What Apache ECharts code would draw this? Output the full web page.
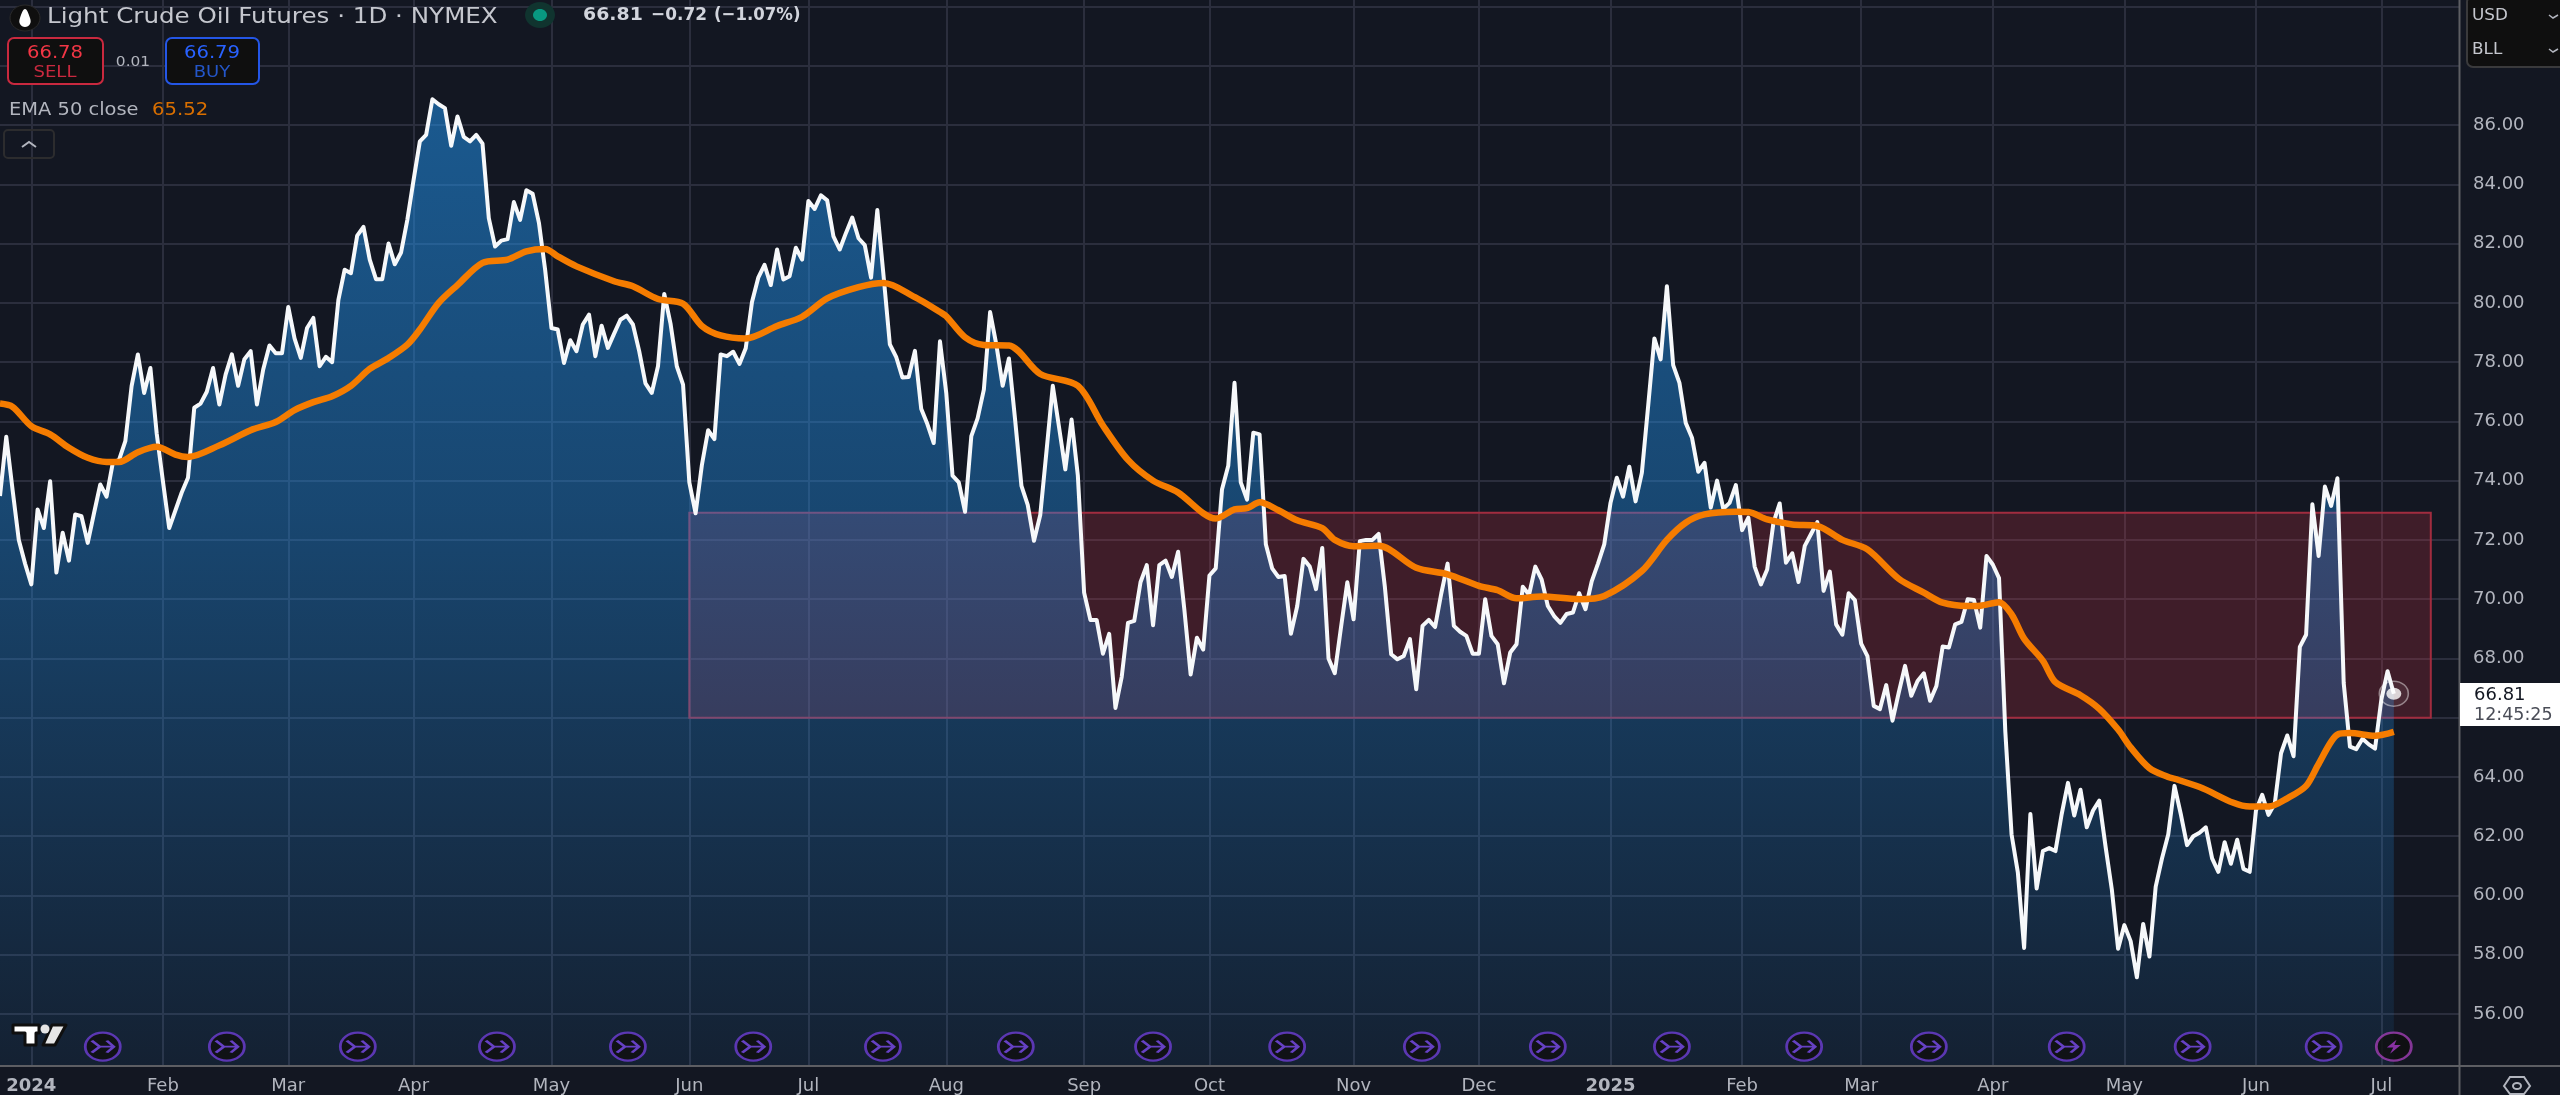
<!DOCTYPE html>
<html>
<head>
<meta charset="utf-8">
<title>Light Crude Oil Futures</title>
<style>
  html, body { margin: 0; padding: 0; background: #131722; }
  #chart { width: 2560px; height: 1095px; }
</style>
<script src="https://cdn.jsdelivr.net/npm/echarts@6/dist/echarts.min.js"></script>
</head>
<body>
<div id="chart"></div>
<script>
// x axis is counted in trading bars, bar 5 = first session of 2024
var monthBars = [5, 26, 46, 66, 88, 110, 129, 151, 173, 193, 216, 236, 257, 278, 297, 318, 339, 360, 380];
var monthLabels = ['2024', 'Feb', 'Mar', 'Apr', 'May', 'Jun', 'Jul', 'Aug', 'Sep', 'Oct', 'Nov', 'Dec', '2025', 'Feb', 'Mar', 'Apr', 'May', 'Jun', 'Jul'];
var priceTicks = [56, 58, 60, 62, 64, 66, 68, 70, 72, 74, 76, 78, 80, 82, 84, 86, 88, 90];
var priceLabels = [56, 58, 60, 62, 64, 68, 70, 72, 74, 76, 78, 80, 82, 84, 86];

// daily close, one value per bar from bar 0
var closeValues = [
  73.48, 75.48, 73.7, 72.0, 71.2, 70.5, 73.03, 72.4, 73.98, 70.9,
  72.24, 71.3, 72.86, 72.8, 71.9, 72.9, 73.87, 73.46, 74.6, 74.7,
  75.33, 77.19, 78.26, 76.96, 77.8, 75.6, 73.98, 72.4, 73.0, 73.6,
  74.1, 76.46, 76.6, 77.0, 77.8, 76.57, 77.58, 78.26, 77.2, 78.1,
  78.37, 76.57, 77.75, 78.56, 78.3, 78.3, 79.86, 78.8, 78.14, 79.15,
  79.49, 77.86, 78.18, 78.0, 80.1, 81.12, 81.0, 82.27, 82.56, 81.46,
  80.8, 80.8, 82.0, 81.3, 81.7, 82.8, 84.15, 85.45, 85.67, 86.87,
  86.7, 86.57, 85.3, 86.29, 85.6, 85.45, 85.67, 85.37, 82.86, 81.9,
  82.1, 82.15, 83.4, 82.8, 83.8, 83.68, 82.7, 81.1, 79.15, 79.1,
  77.97, 78.74, 78.37, 79.27, 79.6, 78.2, 79.23, 78.48, 78.96, 79.43,
  79.57, 79.27, 78.37, 77.28, 76.96, 77.86, 80.3, 79.3, 77.86, 77.24,
  73.94, 72.9, 74.52, 75.7, 75.4, 78.26, 78.2, 78.35, 77.94, 78.47,
  80.03, 80.85, 81.28, 80.6, 81.8, 80.79, 80.9, 81.86, 81.46, 83.44,
  83.17, 83.63, 83.46, 82.24, 81.8, 82.36, 82.88, 82.18, 81.95, 80.85,
  83.13, 80.9, 78.6, 78.18, 77.48, 77.5, 78.38, 76.43, 75.9, 75.27,
  78.7, 76.96, 74.17, 73.94, 72.95, 75.5, 76.1, 77.07, 79.69, 78.58,
  77.2, 78.12, 76.03, 73.82, 73.18, 71.97, 72.84, 75.0, 77.2, 75.8,
  74.38, 76.06, 74.17, 70.22, 69.3, 69.3, 68.16, 68.83, 66.33, 67.38,
  69.2, 69.27, 70.57, 71.15, 69.12, 71.15, 71.3, 70.75, 71.6, 69.64,
  67.46, 68.7, 68.3, 70.8, 71.04, 73.7, 74.5, 77.3, 73.94, 73.36,
  75.62, 75.56, 71.85, 71.04, 70.75, 70.78, 68.83, 69.76, 71.36, 71.1,
  70.34, 71.73, 68.0, 67.5, 69.06, 70.57, 69.32, 71.96, 72.0, 72.0,
  72.2, 70.4, 68.14, 67.97, 68.08, 68.65, 66.96, 69.1, 69.3, 69.06,
  70.2, 71.2, 69.1, 68.9, 68.76, 68.16, 68.16, 70.0, 68.76, 68.48,
  67.16, 68.2, 68.48, 70.42, 70.15, 71.1, 70.67, 69.77, 69.43, 69.2,
  69.5, 69.55, 70.2, 69.66, 70.6, 71.2, 71.85, 73.25, 74.1, 73.46,
  74.47, 73.3, 74.26, 76.5, 78.8, 78.09, 80.56, 77.9, 77.3, 75.95,
  75.45, 74.3, 74.6, 73.09, 74.0, 73.05, 73.25, 73.85, 72.33, 72.75,
  71.1, 70.5, 71.0, 72.58, 73.23, 71.23, 71.55, 70.58, 71.8, 72.2,
  72.6, 70.28, 70.93, 69.15, 68.8, 70.2, 69.97, 68.5, 68.08, 66.4,
  66.29, 67.1, 65.9, 66.85, 67.75, 66.74, 67.24, 67.5, 66.57, 67.07,
  68.4, 68.37, 69.15, 69.23, 70.0, 69.97, 69.04, 71.46, 71.17, 70.71,
  65.54, 62.06, 60.78, 58.23, 62.75, 60.24, 61.5, 61.6, 61.5, 62.75,
  63.8, 62.7, 63.57, 62.3, 62.87, 63.2, 61.65, 60.2, 58.2, 59.0,
  58.46, 57.24, 59.04, 57.94, 60.3, 61.25, 62.06, 63.7, 62.75, 61.7,
  62.0, 62.12, 62.3, 61.25, 60.8, 61.8, 61.07, 61.88, 60.9, 60.8,
  62.87, 63.4, 62.72, 63.1, 64.8, 65.4, 64.7, 68.39, 68.8, 73.2,
  71.46, 73.8, 73.15, 74.08, 67.17, 65.02, 64.94, 65.29, 65.1, 64.96,
  66.6, 67.57, 66.81
];

// EMA 50 read at its bends
var emaBars = [0, 2, 5, 8, 11, 14, 17, 19, 22, 25, 28, 30, 35, 40, 44, 47, 50, 53, 56, 59, 62, 65, 67, 70, 73, 77, 81, 84, 87, 89, 92, 98, 101, 105, 109, 112, 115, 119, 124, 128, 132, 137, 141, 146, 150, 151, 154, 157, 161, 166, 172, 176, 180, 184, 188, 192, 194, 197, 199, 201, 204, 207, 211, 213, 216, 220, 226, 231, 236, 239, 242, 246, 252, 256, 262, 266, 269, 272, 277, 279, 282, 286, 290, 294, 298, 303, 307, 310, 314, 316, 319, 321, 323, 326, 328, 332, 335, 338, 340, 343, 346, 347, 351, 359, 362, 365, 368, 370, 373, 375, 379, 382];
var emaValues = [76.6, 76.49, 75.84, 75.56, 75.11, 74.77, 74.63, 74.63, 74.96, 75.14, 74.88, 74.8, 75.19, 75.7, 75.98, 76.38, 76.65, 76.85, 77.2, 77.77, 78.14, 78.59, 79.1, 80.0, 80.6, 81.35, 81.46, 81.74, 81.82, 81.57, 81.23, 80.73, 80.56, 80.13, 79.97, 79.22, 78.9, 78.8, 79.22, 79.53, 80.15, 80.53, 80.67, 80.19, 79.69, 79.55, 78.84, 78.58, 78.56, 77.6, 77.2, 75.86, 74.7, 74.0, 73.6, 72.9, 72.72, 73.03, 73.07, 73.27, 73.0, 72.66, 72.4, 72.0, 71.79, 71.8, 71.06, 70.84, 70.45, 70.3, 70.03, 70.09, 70.0, 70.11, 70.95, 72.0, 72.58, 72.86, 72.95, 72.94, 72.69, 72.52, 72.47, 72.0, 71.68, 70.69, 70.22, 69.88, 69.77, 69.78, 69.9, 69.49, 68.67, 67.92, 67.2, 66.76, 66.3, 65.6, 65.0, 64.3, 64.0, 63.94, 63.66, 63.0, 63.0, 63.28, 63.7, 64.44, 65.43, 65.48, 65.39, 65.52];

var rolloverBars = [16.4, 36.2, 57.1, 79.3, 100.2, 120.2, 140.9, 162.1, 184, 205.4, 226.9, 247, 266.8, 287.9, 307.8, 329.8, 349.9, 370.8];
var lastBar = 382;
var lastPrice = 66.81;
var markerLevel = 54.9;

// supply zone box
var zoneLeftBar = 110;
var zoneRightBar = 387.9;
var zoneTop = 72.92;
var zoneBottom = 66;

var FONT = '"DejaVu Sans"';
var chart = echarts.init(document.getElementById('chart'));

// sx: the reference text runs a little wider than DejaVu, stretch it to fit
function txt(text, x, y, fill, size, sx, extra) {
  return {
    type: 'text',
    z: 50,
    x: x,
    y: y,
    scaleX: sx || 1,
    style: Object.assign({
      text: text, x: 0, y: 0, fill: fill,
      font: size + 'px ' + FONT,
      verticalAlign: 'middle'
    }, extra || {})
  };
}

function box(x, y, w, h, stroke, fill, r) {
  return {
    type: 'rect',
    z: 49,
    shape: { x: x, y: y, width: w, height: h, r: r },
    style: { stroke: stroke, fill: fill, lineWidth: 2 }
  };
}

function poly(points, fill) {
  return {
    type: 'polygon',
    z: 50,
    shape: { points: points },
    style: { fill: fill, stroke: '#0f0f0f', lineWidth: 3, lineJoin: 'round' }
  };
}

var overlay = [
  // frame of the two scales
  { type: 'line', z: 40, shape: { x1: 2459.5, y1: 0, x2: 2459.5, y2: 1095 }, style: { stroke: '#5d5e63', lineWidth: 2 } },
  { type: 'line', z: 40, shape: { x1: 0, y1: 1066, x2: 2560, y2: 1066 }, style: { stroke: '#5d5e63', lineWidth: 2 } },

  // header
  { type: 'ellipse', z: 49, shape: { cx: 25, cy: 18, rx: 15, ry: 13 }, style: { fill: '#0f0f0f', stroke: '#2a2a2a', lineWidth: 1 } },
  { type: 'polygon', z: 50, shape: { points: [[25, 9], [20, 18], [20, 24], [25, 27], [30, 24], [30, 18]], smooth: 0.4 }, style: { fill: '#ffffff' } },
  txt('Light Crude Oil Futures · 1D · NYMEX', 47, 18, '#c5c7ce', 21, 1.17),
  { type: 'ellipse', z: 49, shape: { cx: 540, cy: 15, rx: 15, ry: 13 }, style: { fill: '#10342f' } },
  { type: 'ellipse', z: 50, shape: { cx: 540, cy: 15, rx: 7, ry: 6 }, style: { fill: '#089981' } },
  txt('66.81', 583, 15, '#d1d4dc', 18, 1.05, { font: 'bold 18px ' + FONT }),
  txt('−0.72', 651, 15, '#d1d4dc', 18, 0.94, { font: 'bold 18px ' + FONT }),
  txt('(−1.07%)', 714, 15, '#d1d4dc', 18, 0.92, { font: 'bold 18px ' + FONT }),

  // sell / buy
  box(8, 38, 95, 46, '#c9293f', '#0f0f0f', 6),
  txt('66.78', 55, 53, '#f23645', 18, 1.09, { align: 'center' }),
  txt('SELL', 55, 73, '#c9293f', 15, 1.2, { align: 'center' }),
  txt('0.01', 133, 62, '#b2b5be', 14, 1.1, { align: 'center' }),
  box(166, 38, 93, 46, '#2456e6', '#0f0f0f', 6),
  txt('66.79', 212, 53, '#2962ff', 18, 1.09, { align: 'center' }),
  txt('BUY', 212, 73, '#2456c8', 15, 1.2, { align: 'center' }),

  // legend
  txt('EMA 50 close', 9, 110, '#b2b5be', 18, 1.08),
  txt('65.52', 152, 110, '#d96f00', 18, 1.09),
  box(4, 130, 50, 28, '#2c2c2e', 'transparent', 4),
  { type: 'polyline', z: 50, shape: { points: [[22, 147], [29, 142], [36, 147]] }, style: { stroke: '#b2b5be', lineWidth: 2, fill: null } },

  // currency / unit selector
  box(2467, -4, 100, 71, '#3a3a3c', '#0f0f0f', 6),
  txt('USD', 2472, 16, '#c5c7ce', 16, 1.05),
  txt('BLL', 2472, 50, '#c5c7ce', 16, 1.05),
  { type: 'polyline', z: 50, shape: { points: [[2549, 15], [2553, 18], [2558, 15]] }, style: { stroke: '#b2b5be', lineWidth: 1.5, fill: null } },
  { type: 'polyline', z: 50, shape: { points: [[2549, 49], [2553, 52], [2558, 49]] }, style: { stroke: '#b2b5be', lineWidth: 1.5, fill: null } },

  // last price tag
  { type: 'rect', z: 49, shape: { x: 2460, y: 683, width: 100, height: 43 }, style: { fill: '#ffffff' } },
  txt('66.81', 2474, 695, '#131722', 18),
  txt('12:45:25', 2474, 715, '#4a4d57', 17.5),

  // logo
  poly([[13, 1025], [39, 1025], [39, 1033], [36, 1033], [36, 1045], [25, 1045], [25, 1033], [13, 1033]], '#ffffff'),
  poly([[52, 1025], [66, 1025], [55, 1045], [43, 1045]], '#e6e6e6'),
  { type: 'circle', z: 50, shape: { cx: 45, cy: 1029, r: 4.5 }, style: { fill: '#e6e6e6' } },

  // settings cog
  { type: 'polygon', z: 50, shape: { points: [[2504, 1086], [2510, 1077], [2524, 1077], [2530, 1086], [2524, 1094], [2510, 1094]] }, style: { stroke: '#b2b5be', fill: null, lineWidth: 2 } },
  { type: 'ellipse', z: 50, shape: { cx: 2517, cy: 1086, rx: 4, ry: 3 }, style: { stroke: '#b2b5be', fill: null, lineWidth: 2 } }
];

var option = {
  backgroundColor: '#131722',
  animation: false,
  textStyle: { fontFamily: FONT },
  grid: { left: 0, right: 101, top: 0, bottom: 29 },
  xAxis: {
    type: 'value',
    min: 0,
    max: 392.4,
    axisLine: { show: false },
    axisTick: { show: false, customValues: monthBars },
    splitLine: { show: true, lineStyle: { color: '#2b2e3d', width: 2 } },
    axisLabel: {
      customValues: monthBars,
      margin: 12,
      color: '#b2b5be',
      fontSize: 18,
      fontFamily: FONT,
      hideOverlap: false,
      formatter: function (v) {
        var s = monthLabels[monthBars.indexOf(v)];
        return /^\d/.test(s) ? '{y|' + s + '}' : s;
      },
      rich: { y: { fontSize: 18, fontWeight: 'bold', color: '#b2b5be', fontFamily: FONT } }
    }
  },
  yAxis: {
    type: 'value',
    position: 'right',
    min: 54.28,
    max: 90.22,
    axisLine: { show: false },
    axisTick: { show: false, customValues: priceTicks },
    splitLine: { show: true, lineStyle: { color: '#2b2e3d', width: 2 } },
    axisLabel: {
      customValues: priceLabels,
      margin: 14,
      padding: [3, 0, 0, 0],
      color: '#b2b5be',
      fontSize: 18,
      fontFamily: FONT,
      formatter: function (v) { return v.toFixed(2); }
    }
  },
  series: [
    {
      name: 'Close',
      type: 'line',
      data: closeValues.map(function (v, i) { return [i, v]; }),
      showSymbol: false,
      lineStyle: { color: '#f6f8fa', width: 4, join: 'round' },
      areaStyle: {
        origin: 'start',
        opacity: 1,
        color: {
          type: 'linear', x: 0, y: 0, x2: 0, y2: 1,
          colorStops: [
            { offset: 0, color: 'rgba(33,150,243,0.52)' },
            { offset: 0.42, color: 'rgba(33,150,243,0.38)' },
            { offset: 0.66, color: 'rgba(33,150,243,0.25)' },
            { offset: 1, color: 'rgba(33,150,243,0.08)' }
          ]
        }
      },
      markArea: {
        silent: true,
        itemStyle: { color: 'rgba(242,55,70,0.2)', borderColor: '#a12c3f', borderWidth: 2 },
        data: [[{ coord: [zoneLeftBar, zoneTop] }, { coord: [zoneRightBar, zoneBottom] }]]
      }
    },
    {
      name: 'EMA 50',
      type: 'line',
      z: 4,
      smooth: 0.3,
      data: emaBars.map(function (b, i) { return [b, emaValues[i]]; }),
      showSymbol: false,
      lineStyle: { color: '#f57c00', width: 6.5, join: 'round' }
    },
    {
      name: 'Last ring',
      type: 'scatter',
      z: 5,
      symbolSize: [29, 25],
      data: [[lastBar, lastPrice]],
      itemStyle: { color: 'rgba(255,255,255,0.08)', borderColor: 'rgba(255,255,255,0.55)', borderWidth: 1.5 }
    },
    {
      name: 'Last',
      type: 'scatter',
      z: 6,
      symbolSize: [15, 12],
      data: [[lastBar, lastPrice]],
      itemStyle: { color: '#ffffff' }
    },
    {
      name: 'Rollover',
      type: 'scatter',
      z: 5,
      symbolSize: [35, 28],
      data: rolloverBars.map(function (b) { return [b, markerLevel]; }),
      itemStyle: { color: '#0f0f0f', borderColor: '#6e3fd6', borderWidth: 2.5 }
    },
    {
      name: 'Rollover glyph',
      type: 'scatter',
      z: 6,
      symbol: 'path://M0 0 L8 5 L0 10 M8 5 L22 5 M15 0 L22 5 L15 10',
      symbolSize: [22, 12],
      data: rolloverBars.map(function (b) { return [b, markerLevel]; }),
      itemStyle: { color: 'transparent', borderColor: '#7c4df0', borderWidth: 2.5 }
    },
    {
      name: 'Dividend',
      type: 'scatter',
      z: 5,
      symbolSize: [35, 28],
      data: [[lastBar, markerLevel]],
      itemStyle: { color: '#0f0f0f', borderColor: '#a03fb5', borderWidth: 2.5 }
    },
    {
      name: 'Dividend glyph',
      type: 'scatter',
      z: 6,
      symbol: 'path://M9 0 L0 9 L6 9 L3 16 L13 6 L7 6 Z',
      symbolSize: [14, 14],
      data: [[lastBar, markerLevel]],
      itemStyle: { color: '#a83ac8' }
    }
  ],
  graphic: { elements: overlay }
};

chart.setOption(option);
</script>
</body>
</html>
